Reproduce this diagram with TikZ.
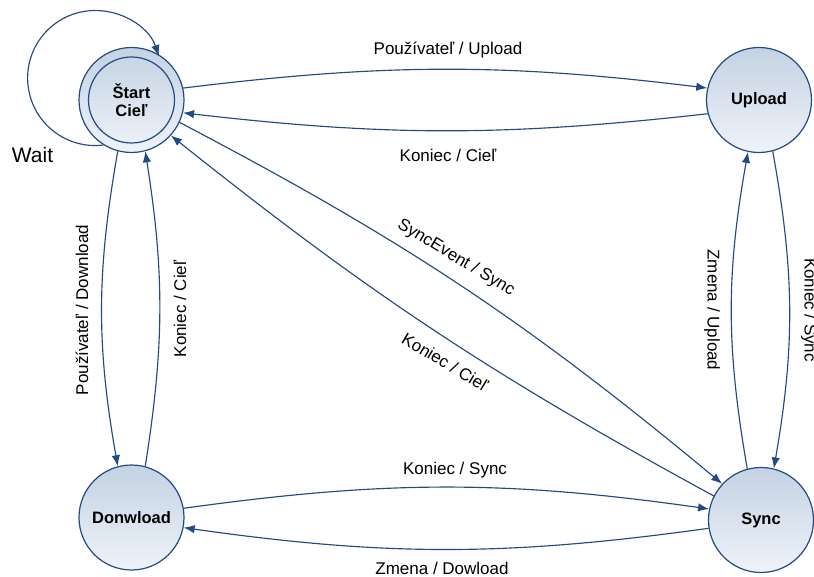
\documentclass[tikz,border=0pt]{standalone}
\usepackage{fontspec}
\setmainfont{Liberation Sans}
\usetikzlibrary{arrows.meta,calc}
\definecolor{edgeblue}{RGB}{36,74,132}
\definecolor{fillTop}{RGB}{196,210,227}
\definecolor{fillBot}{RGB}{239,243,249}
\tikzset{
  state/.style={circle, draw=edgeblue, line width=1.2pt, minimum size=105pt,
    inner sep=0pt, top color=fillTop, bottom color=fillBot,
    font=\fontsize{16.5}{18}\selectfont\bfseries, align=center},
  edge/.style={draw=edgeblue, line width=1.15pt, -{Latex[length=11pt,width=8.5pt]}},
  lbl/.style={font=\fontsize{17}{19}\selectfont, inner sep=0pt, text=black},
}
\begin{document}
\begin{tikzpicture}[x=1pt,y=1pt]
\useasboundingbox (0,0) rectangle (814,576);

% states
\node[state] (start)    at (131.5,476) {Štart\\Cieľ};
\draw[edgeblue, line width=1.2pt] (start.center) circle[radius=43];
\node[state] (upload)   at (759,476)   {Upload};
\node[state] (donwload) at (131.5,58.5) {Donwload};
\node[state] (sync)     at (761,56)    {Sync};

% self loop on the start state
\draw[edge] (start.238) arc[start angle=277, end angle=19, radius=67.5];
\node[font=\fontsize{21}{24}\selectfont, inner sep=0pt] (wait) at (32.5,421) {Wait};

% start <-> upload
\draw[edge] (start.13) to[bend left=7] (upload.167);
\draw[edge] (upload.195) to[bend left=6.5] (start.346);
\node[lbl] (l1) at (448,526) {Používateľ / Upload};
\node[lbl] (l2) at (448,421) {Koniec / Cieľ};

% start <-> donwload
\draw[edge] (start.255) to[bend right=10] (donwload.105);
\draw[edge] (donwload.75) to[bend right=9] (start.285);
\node[lbl, rotate=90] (l3) at (82,266) {Používateľ / Download};
\node[lbl, rotate=90] (l4) at (180,267) {Koniec / Cieľ};

% upload <-> sync
\draw[edge] (sync.105) to[bend left=10] (upload.258);
\draw[edge] (upload.285) to[bend left=10] (sync.76);
\node[lbl, rotate=-90] (l5) at (712,266) {Zmena / Upload};
\node[lbl, rotate=-90] (l6) at (809,266) {Koniec / Sync};

% start <-> sync
\draw[edge] (start.335) to[bend left=6] (sync.137);
\draw[edge] (sync.153) to[bend left=5] (start.318);
\node[lbl, rotate=-31] (l7) at (456,318) {SyncEvent / Sync};
\node[lbl, rotate=-31] (l8) at (445,214) {Koniec / Cieľ};

% donwload <-> sync
\draw[edge] (donwload.10) to[bend left=8] (sync.168);
\draw[edge] (sync.189) to[bend left=8] (donwload.349);
\node[lbl] (l9) at (455,106) {Koniec / Sync};
\node[lbl] (l10) at (442,8) {Zmena / Dowload};
\end{tikzpicture}
\end{document}
